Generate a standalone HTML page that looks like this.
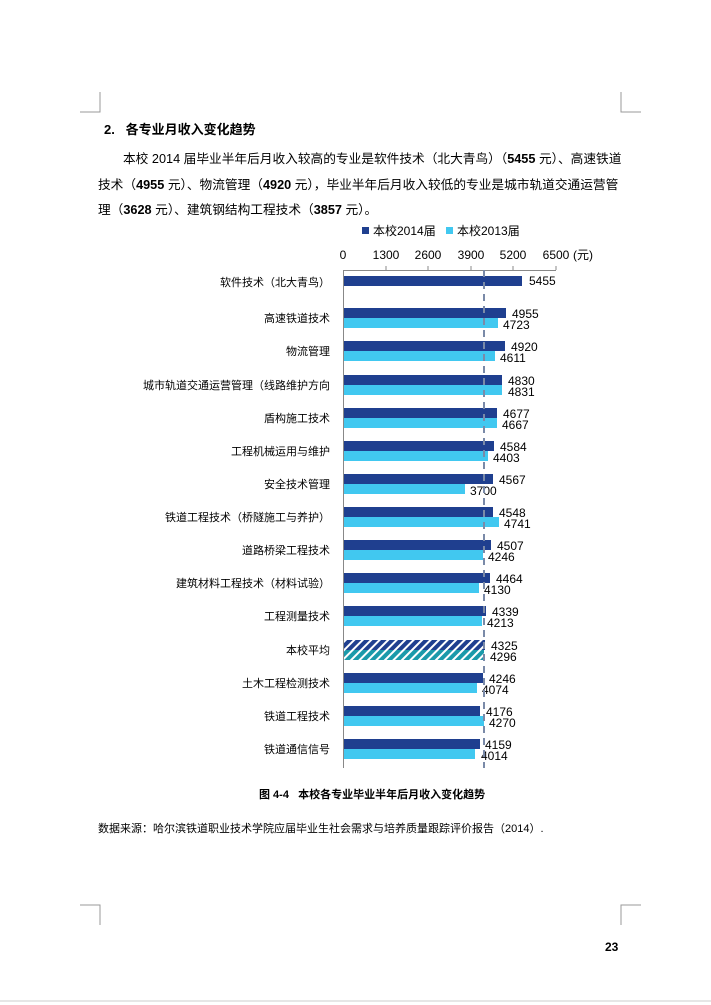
<!DOCTYPE html>
<html><head><meta charset="utf-8"><style>
body{margin:0;background:#fff;}
.p{position:relative;width:711px;height:1005px;overflow:hidden;font-family:"Liberation Sans","Noto Sans CJK SC",sans-serif;color:#000;}
.t{position:absolute;white-space:nowrap;}
</style></head><body><div class="p">
<svg width="711" height="1005" style="position:absolute;left:0;top:0" font-family="Liberation Sans, Noto Sans CJK SC, sans-serif">
<defs>
<pattern id="h1" width="6" height="6" patternUnits="userSpaceOnUse" patternTransform="rotate(45)"><rect width="6" height="6" fill="#1f3f8f"/><rect width="2" height="6" fill="#fff"/></pattern>
<pattern id="h2" width="6" height="6" patternUnits="userSpaceOnUse" patternTransform="rotate(45)"><rect width="6" height="6" fill="#1a9aaa"/><rect width="2" height="6" fill="#fff"/></pattern>
</defs>
<g stroke="#999" fill="none" stroke-width="1">
<path d="M100 92V112H80"/><path d="M621 92V112H641"/>
<path d="M100 925V905H80"/><path d="M621 925V905H641"/>
</g>
<line x1="0" y1="1001" x2="711" y2="1001" stroke="#ccc"/>
<g font-size="12" fill="#000">
<rect x="362" y="227" width="7" height="7" fill="#1f3f8f"/><text x="373" y="235">本校2014届</text>
<rect x="446" y="227" width="7" height="7" fill="#41c8f0"/><text x="457" y="235">本校2013届</text>
<text x="343" y="259" text-anchor="middle">0</text>
<text x="386" y="259" text-anchor="middle">1300</text>
<text x="428" y="259" text-anchor="middle">2600</text>
<text x="471" y="259" text-anchor="middle">3900</text>
<text x="513" y="259" text-anchor="middle">5200</text>
<text x="556" y="259" text-anchor="middle">6500</text>
<text x="573" y="259">(元)</text>
</g>
<g stroke="#888" stroke-width="1">
<line x1="343.5" y1="270" x2="343.5" y2="768"/>
<line x1="343" y1="270.5" x2="556" y2="270.5"/>
<line x1="386" y1="266" x2="386" y2="270"/><line x1="428" y1="266" x2="428" y2="270"/><line x1="471" y1="266" x2="471" y2="270"/><line x1="513" y1="266" x2="513" y2="270"/><line x1="556" y1="266" x2="556" y2="270"/>
</g>
<g id="bars" font-size="12">
<rect x="344" y="276" width="178" height="10" fill="#1f3f8f"/><text x="529" y="285">5455</text>
<rect x="344" y="308" width="162" height="10" fill="#1f3f8f"/><rect x="344" y="318" width="154" height="10" fill="#41c8f0"/><text x="512" y="318">4955</text><text x="503" y="329">4723</text>
<rect x="344" y="341" width="161" height="10" fill="#1f3f8f"/><rect x="344" y="351" width="151" height="10" fill="#41c8f0"/><text x="511" y="351">4920</text><text x="500" y="362">4611</text>
<rect x="344" y="375" width="158" height="10" fill="#1f3f8f"/><rect x="344" y="385" width="158" height="10" fill="#41c8f0"/><text x="508" y="385">4830</text><text x="508" y="396">4831</text>
<rect x="344" y="408" width="153" height="10" fill="#1f3f8f"/><rect x="344" y="418" width="153" height="10" fill="#41c8f0"/><text x="503" y="418">4677</text><text x="502" y="429">4667</text>
<rect x="344" y="441" width="150" height="10" fill="#1f3f8f"/><rect x="344" y="451" width="144" height="10" fill="#41c8f0"/><text x="500" y="451">4584</text><text x="493" y="462">4403</text>
<rect x="344" y="474" width="149" height="10" fill="#1f3f8f"/><rect x="344" y="484" width="121" height="10" fill="#41c8f0"/><text x="499" y="484">4567</text><text x="470" y="495">3700</text>
<rect x="344" y="507" width="149" height="10" fill="#1f3f8f"/><rect x="344" y="517" width="155" height="10" fill="#41c8f0"/><text x="499" y="517">4548</text><text x="504" y="528">4741</text>
<rect x="344" y="540" width="147" height="10" fill="#1f3f8f"/><rect x="344" y="550" width="139" height="10" fill="#41c8f0"/><text x="497" y="550">4507</text><text x="488" y="561">4246</text>
<rect x="344" y="573" width="146" height="10" fill="#1f3f8f"/><rect x="344" y="583" width="135" height="10" fill="#41c8f0"/><text x="496" y="583">4464</text><text x="484" y="594">4130</text>
<rect x="344" y="606" width="142" height="10" fill="#1f3f8f"/><rect x="344" y="616" width="138" height="10" fill="#41c8f0"/><text x="492" y="616">4339</text><text x="487" y="627">4213</text>
<rect x="344" y="640" width="141" height="10" fill="url(#h1)"/><rect x="344" y="650" width="140" height="10" fill="url(#h2)"/><text x="491" y="650">4325</text><text x="490" y="661">4296</text>
<rect x="344" y="673" width="139" height="10" fill="#1f3f8f"/><rect x="344" y="683" width="133" height="10" fill="#41c8f0"/><text x="489" y="683">4246</text><text x="482" y="694">4074</text>
<rect x="344" y="706" width="136" height="10" fill="#1f3f8f"/><rect x="344" y="716" width="140" height="10" fill="#41c8f0"/><text x="486" y="716">4176</text><text x="489" y="727">4270</text>
<rect x="344" y="739" width="136" height="10" fill="#1f3f8f"/><rect x="344" y="749" width="131" height="10" fill="#41c8f0"/><text x="485" y="749">4159</text><text x="481" y="760">4014</text>
</g>
<line x1="484" y1="270" x2="484" y2="768" stroke="#7a8aa8" stroke-width="2" stroke-dasharray="7,5"/>
<g font-size="11" text-anchor="end">
<text x="330" y="286">软件技术（北大青鸟）</text>
<text x="330" y="322">高速铁道技术</text>
<text x="330" y="355">物流管理</text>
<text x="330" y="389">城市轨道交通运营管理（线路维护方向</text>
<text x="330" y="422">盾构施工技术</text>
<text x="330" y="455">工程机械运用与维护</text>
<text x="330" y="488">安全技术管理</text>
<text x="330" y="521">铁道工程技术（桥隧施工与养护）</text>
<text x="330" y="554">道路桥梁工程技术</text>
<text x="330" y="587">建筑材料工程技术（材料试验）</text>
<text x="330" y="620">工程测量技术</text>
<text x="330" y="654">本校平均</text>
<text x="330" y="687">土木工程检测技术</text>
<text x="330" y="720">铁道工程技术</text>
<text x="330" y="753">铁道通信信号</text>
</g>
</svg>
<div class="t" style="left:104px;top:119px;font-size:13px;font-weight:bold">2.&nbsp;&nbsp;&nbsp;各专业月收入变化趋势</div>
<div class="t" style="left:123px;top:146px;font-size:12.7px;line-height:26px">本校 2014 届毕业半年后月收入较高的专业是软件技术（北大青鸟）（<b>5455</b> 元）、高速铁道</div>
<div class="t" style="left:98px;top:172px;font-size:12.7px;line-height:26px">技术（<b>4955</b> 元）、物流管理（<b>4920</b> 元），毕业半年后月收入较低的专业是城市轨道交通运营管</div>
<div class="t" style="left:98px;top:197px;font-size:12.7px;line-height:26px">理（<b>3628</b> 元）、建筑钢结构工程技术（<b>3857</b> 元）。</div>
<div class="t" style="left:259px;top:786px;font-size:11px;font-weight:bold">图 4-4&nbsp;&nbsp;&nbsp;本校各专业毕业半年后月收入变化趋势</div>
<div class="t" style="left:98px;top:820px;font-size:11px">数据来源：哈尔滨铁道职业技术学院应届毕业生社会需求与培养质量跟踪评价报告（2014）.</div>
<div class="t" style="left:605px;top:940px;font-size:12px;font-weight:bold">23</div>
</div></body></html>
